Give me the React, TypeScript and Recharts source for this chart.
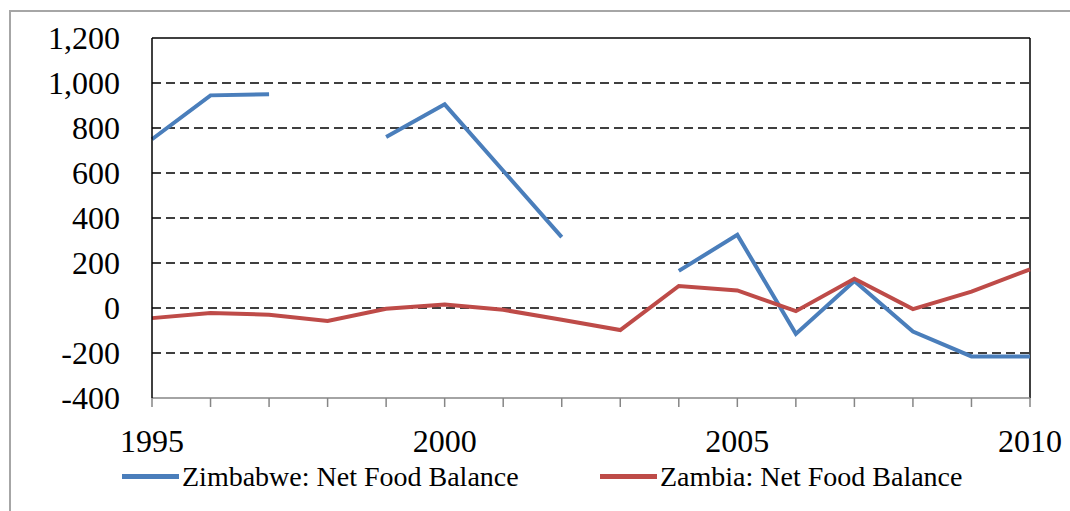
import { LineChart, Line, XAxis, YAxis, ReferenceLine, Legend } from "recharts";

const years = [1995, 1996, 1997, 1998, 1999, 2000, 2001, 2002, 2003, 2004, 2005, 2006, 2007, 2008, 2009, 2010];
const zimbabwe = [750, 945, 950, null, 760, 905, 610, 315, null, 165, 325, -115, 120, -105, -215, -215];
const zambia = [-45, -22, -30, -58, -3, 15, -8, -52, -98, 98, 78, -14, 130, -5, 73, 172];

const yTicks = [-400, -200, 0, 200, 400, 600, 800, 1000, 1200];
const gridValues = [-200, 0, 200, 400, 600, 800, 1000];
const labelYears = [1995, 2000, 2005, 2010];

const FONT = "'Liberation Serif', 'Times New Roman', serif";
const BLUE = "#4a7ebb";
const RED = "#be4b48";

const data = years.map((year, i) => ({ year, zimbabwe: zimbabwe[i], zambia: zambia[i] }));

const legendItems = [
  { name: "Zimbabwe: Net Food Balance", color: BLUE, left: 122 },
  { name: "Zambia: Net Food Balance", color: RED, left: 600 },
];

// ticks sit on every year, labels only every fifth
function YearTick({ x, y, payload }: any) {
  if (!labelYears.includes(payload.value)) return <g />;
  return (
    <text x={x} y={y + 43} textAnchor="middle" fontSize={32} fontFamily={FONT} fill="#000">
      {payload.value}
    </text>
  );
}

function LegendRow() {
  return (
    <div style={{ position: "relative", height: 31 }}>
      {legendItems.map((item) => (
        <div
          key={item.name}
          style={{
            position: "absolute",
            left: item.left,
            top: 0,
            display: "flex",
            alignItems: "center",
            fontFamily: FONT,
            fontSize: 28,
            lineHeight: "31px",
            color: "#000",
            whiteSpace: "nowrap",
          }}
        >
          <span style={{ display: "inline-block", width: 57, height: 5, background: item.color, marginRight: 3 }} />
          {item.name}
        </div>
      ))}
    </div>
  );
}

export default function App() {
  return (
    <div style={{ position: "absolute", left: 0, top: 0, width: 1070, height: 511, background: "#fff" }}>
      <div
        style={{
          position: "absolute",
          left: 9,
          top: 10,
          right: 0,
          bottom: 0,
          borderLeft: "2px solid #a6a6a6",
          borderTop: "2px solid #a6a6a6",
        }}
      />
      <div style={{ position: "absolute", left: 0, top: 0 }}>
        <LineChart width={1070} height={511} data={data} margin={{ top: 38, right: 40, left: 0, bottom: 0 }}>
          <XAxis
            dataKey="year"
            type="number"
            domain={[1995, 2010]}
            ticks={years}
            interval={0}
            height={113}
            tickSize={9}
            axisLine={{ stroke: "#868686", strokeWidth: 1.5 }}
            tickLine={{ stroke: "#868686", strokeWidth: 1.5 }}
            tick={<YearTick />}
          />
          <YAxis
            type="number"
            domain={[-400, 1200]}
            ticks={yTicks}
            interval={0}
            width={152}
            tickLine={false}
            tickSize={0}
            tickMargin={32}
            axisLine={{ stroke: "#000", strokeWidth: 1.5 }}
            tick={{ fontSize: 32, fill: "#000", fontFamily: FONT }}
            tickFormatter={(v: number) => v.toLocaleString("en-US")}
          />
          {gridValues.map((v) => (
            <ReferenceLine key={v} y={v} stroke="#000" strokeWidth={1.5} strokeDasharray="9 5" />
          ))}
          <ReferenceLine y={1200} stroke="#000" strokeWidth={1.5} />
          <ReferenceLine x={2010} stroke="#000" strokeWidth={1.5} />
          <Line
            type="linear"
            dataKey="zimbabwe"
            name="Zimbabwe: Net Food Balance"
            stroke={BLUE}
            strokeWidth={4}
            dot={false}
            isAnimationActive={false}
          />
          <Line
            type="linear"
            dataKey="zambia"
            name="Zambia: Net Food Balance"
            stroke={RED}
            strokeWidth={4}
            dot={false}
            isAnimationActive={false}
          />
          <Legend
            layout="horizontal"
            verticalAlign="middle"
            align="center"
            content={<LegendRow />}
            wrapperStyle={{ top: 461, left: 0, width: 1070, height: 31 }}
          />
        </LineChart>
      </div>
    </div>
  );
}
